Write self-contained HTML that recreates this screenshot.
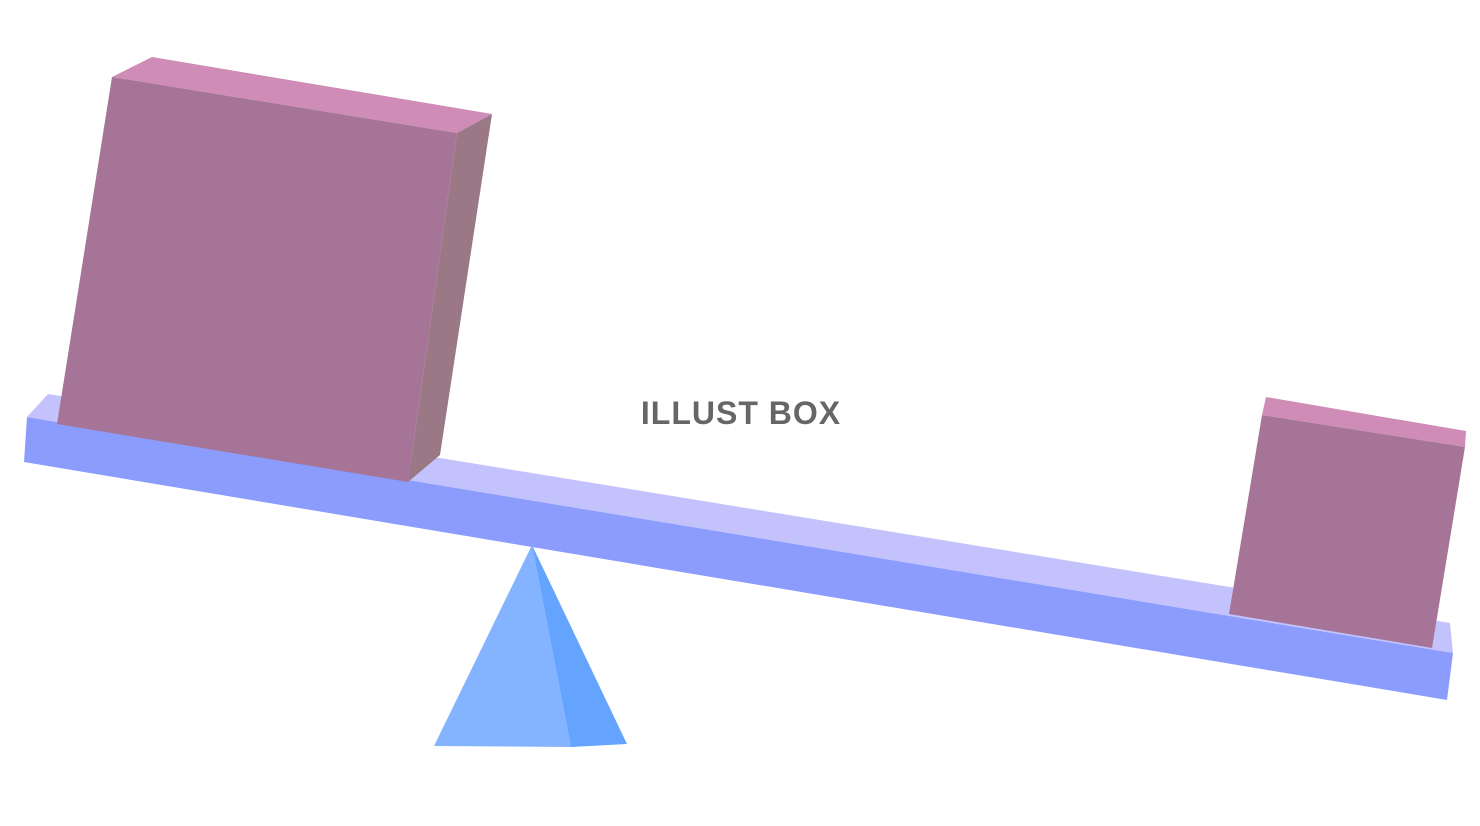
<!DOCTYPE html>
<html><head><meta charset="utf-8"><style>
html,body{margin:0;padding:0;background:#fff;}
</style></head><body>
<svg width="1480" height="821" viewBox="0 0 1480 821" xmlns="http://www.w3.org/2000/svg">
<rect width="1480" height="821" fill="#fff"/>
<!-- beam top -->
<polygon points="27,417 48,394 1450,623 1453,653" fill="#c4c2fc"/>
<!-- beam front -->
<polygon points="27,417 1453,653 1447,700 24,462" fill="#8c9cfc"/>
<!-- pyramid -->
<polygon points="532,545 571,747 434,746" fill="#84b4ff"/>
<polygon points="532,545 627,744 571,747" fill="#64a4fe"/>
<!-- big box -->
<polygon points="112,77 152,57 492,114 457,133" fill="#ce8cb6"/>
<polygon points="457,133 492,114 440,455 408,482" fill="#9a7886"/>
<polygon points="112,77 457,133 408,482 57,424" fill="#a67496"/>
<!-- small box -->
<polygon points="1266,397 1466,431 1465,447 1262,415" fill="#ce8cb6"/>
<polygon points="1262,415 1465,447 1432,648 1229,614" fill="#a67496"/>
<text x="741" y="424" text-anchor="middle" font-family="Liberation Sans, sans-serif" font-weight="bold" font-size="32" fill="#666" letter-spacing="1">ILLUST BOX</text>
</svg>
</body></html>
